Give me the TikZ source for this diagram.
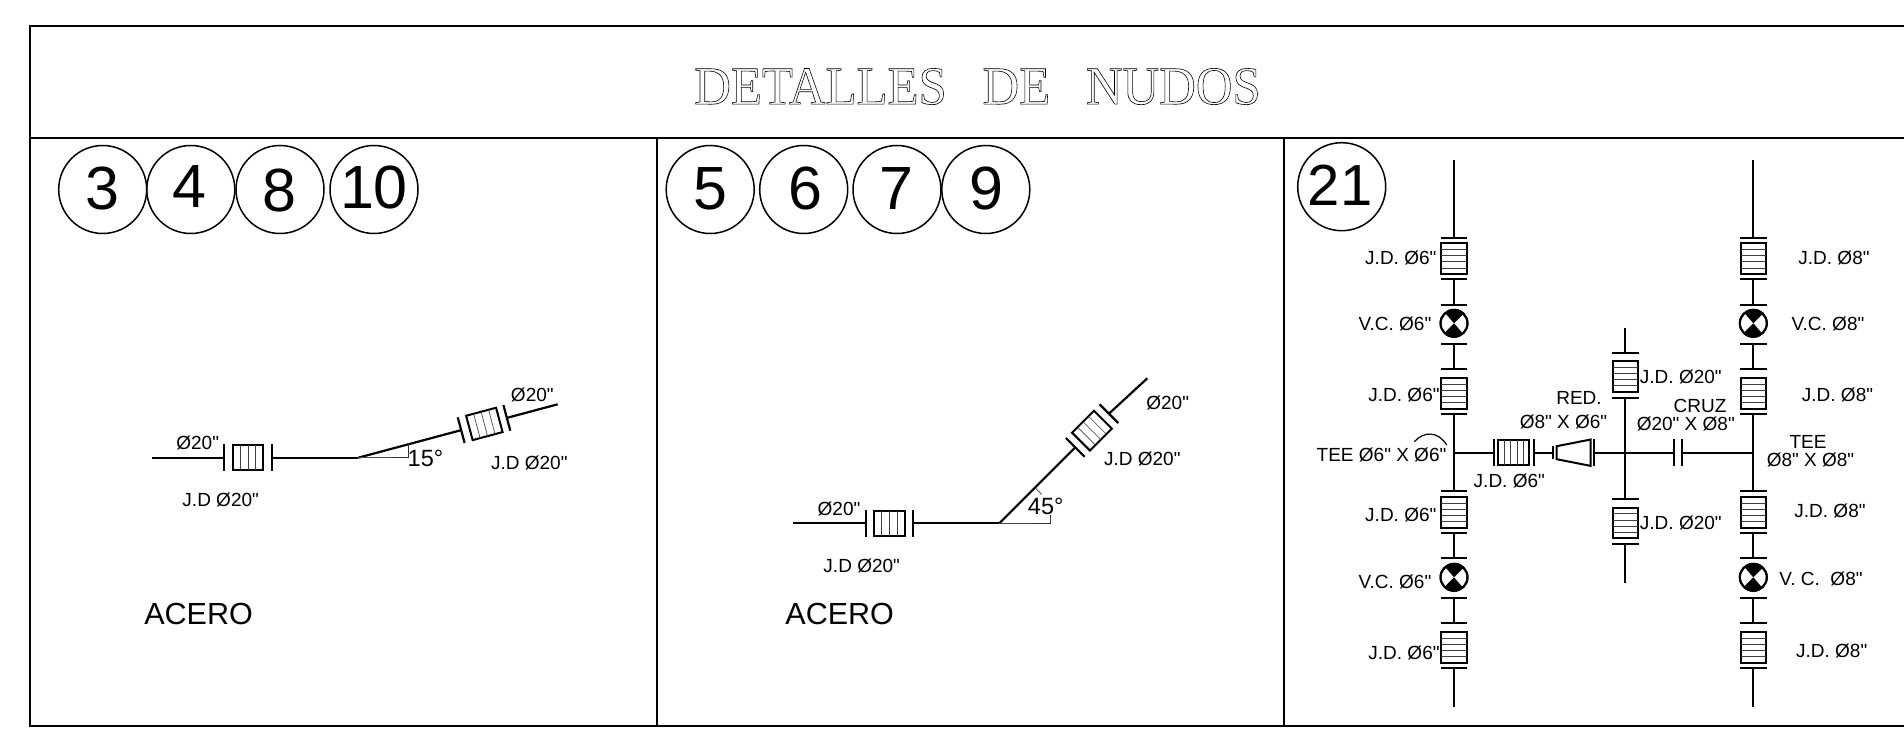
\documentclass[tikz,border=0pt]{standalone}
\usepackage{fontspec}
\usepackage{graphicx}
\newfontfamily\arial{Liberation Sans}
\newfontfamily\titlefont{Liberation Serif}
\tikzset{
  x=1pt,y=-1pt,
  pipe/.style={line width=2.2pt,black},
  flange/.style={line width=2.2pt,black},
  frameline/.style={line width=2pt,black},
  jointbox/.style={line width=2pt,black,fill=white},
  inner/.style={line width=.65pt,black!75},
  thindim/.style={line width=.8pt,black!80},
  ring/.style={circle,draw=black,line width=1.5pt,minimum size=88pt,inner sep=0pt},
  num/.style={font=\arial\fontsize{61}{61}\selectfont,inner sep=0pt,text height=43.9pt,text depth=0pt},
  numk/.style={font=\arial\fontsize{58}{58}\selectfont,inner sep=0pt,text height=41.8pt,text depth=0pt},
  lbl/.style={font=\arial\fontsize{19}{19}\selectfont,inner sep=0pt,text height=13.7pt,text depth=0pt},
  lblbig/.style={font=\arial\fontsize{30.5}{31}\selectfont,inner sep=0pt,text height=22pt,text depth=0pt},
  lblang/.style={font=\arial\fontsize{23.5}{24}\selectfont,inner sep=0pt,text height=16.9pt,text depth=0pt},
  valve/.style={circle,draw=black,line width=2pt,fill=white,minimum size=27pt,inner sep=0pt},
}
% name, x, y, angle, flange a, box a, box b, flange b, interior lines
\newcommand\jnt[9]{%
  \begin{scope}[shift={(#2,#3)},rotate=#4]
    \coordinate (#1-a) at (#5,0);
    \coordinate (#1-b) at (#8,0);
    \draw[flange] (#5,-13.3) -- (#5,13.3);
    \draw[flange] (#8,-13.3) -- (#8,13.3);
    \draw[jointbox] (#6,-12.6) rectangle (#7,12.6);
    \foreach \i in {1,...,#9}{\draw[inner] ({#6+(#7-#6)*\i/(#9+1)},-12.6) -- ({#6+(#7-#6)*\i/(#9+1)},12.6);}
  \end{scope}}
% name, x, y (flange across a vertical pipe)
\newcommand\hflg[3]{\coordinate (#1) at (#2,#3);\draw[flange] ([xshift=-13.3pt]#1) -- ([xshift=13.3pt]#1);}
% name, x, y, half height (flange across a horizontal pipe)
\newcommand\vflg[4]{\coordinate (#1) at (#2,#3);\draw[flange] ([yshift=-#4pt]#1) -- ([yshift=#4pt]#1);}
% name, x, y
\newcommand\vlv[3]{%
  \node[valve] (#1) at (#2,#3) {};
  \fill[black] (#1.center) -- (#1.45) arc[start angle=45,end angle=135,radius=13.5pt] -- cycle;
  \fill[black] (#1.center) -- (#1.-135) arc[start angle=-135,end angle=-45,radius=13.5pt] -- cycle;
  \draw[black,line width=2pt] (#1) circle[radius=13.5pt];}
% one vertical run: prefix, x
\newcommand\stack[2]{%
  \coordinate (#1top) at (#2,160);
  \coordinate (#1tee) at (#2,452.7);
  \coordinate (#1end) at (#2,706.7);
  \jnt{#1j1}{#2}{0}{-90}{237.7}{243.3}{274}{279.3}{4}
  \hflg{#1f1}{#2}{304.7}\vlv{#1v1}{#2}{323.3}\hflg{#1f2}{#2}{344}
  \jnt{#1j2}{#2}{0}{-90}{369.3}{377.7}{408.7}{414}{4}
  \jnt{#1j3}{#2}{0}{-90}{491.3}{496.7}{528}{533.3}{4}
  \hflg{#1f3}{#2}{558}\vlv{#1v2}{#2}{577.3}\hflg{#1f4}{#2}{598}
  \jnt{#1j4}{#2}{0}{-90}{623}{631.7}{662.7}{668}{4}
  \draw[pipe] (#1top) -- (#1j1-a);
  \draw[pipe] (#1j1-b) -- (#1f1);
  \draw[pipe] (#1f2) -- (#1j2-a);
  \draw[pipe] (#1j2-b) -- (#1j3-a);
  \draw[pipe] (#1j3-b) -- (#1f3);
  \draw[pipe] (#1f4) -- (#1j4-a);
  \draw[pipe] (#1j4-b) -- (#1end);}
\begin{document}
\begin{tikzpicture}
\useasboundingbox (0,0) rectangle (1904,738);
\fill[white] (0,0) rectangle (1904,738);
% frame
\coordinate (tl) at (30,26);
\coordinate (tr) at (1904,26);
\coordinate (bl) at (30,726);
\coordinate (br) at (1904,726);
\coordinate (ml) at (30,138);
\coordinate (mr) at (1904,138);
\coordinate (c1t) at (657,138);
\coordinate (c1b) at (657,726);
\coordinate (c2t) at (1283.5,138);
\coordinate (c2b) at (1283.5,726);
\draw[frameline] (tr) -- (tl) -- (bl) -- (br);
\draw[frameline] (ml) -- (mr);
\draw[frameline] (c1t) -- (c1b);
\draw[frameline] (c2t) -- (c2b);
% title
\node[inner sep=0pt] (title) at (977.5,86.5) {\scalebox{.94}[1]{\titlefont\fontsize{54}{54}\selectfont\special{pdf:code q 1 Tr 0.62 w}DETALLES\hspace{38pt}DE\hspace{38pt}NUDOS\special{pdf:code Q}}};
% number circles
\foreach \nm/\cx/\ty/\tx/\t in {a/102.7/188/102/3,b/190.8/186/189.5/4,c/280/190/279/8,d/374/187/374/10,
  e/710.2/188/710.5/5,f/803.7/188/805/6,g/897/188/896/7,h/985.8/188/986/9}{
  \node[ring] (ring\nm) at (\cx,189.5) {};
  \node[num] (num\nm) at (\tx,\ty) {\t};
}
\node[ring] (ringk) at (1341.7,186.7) {};
\node[numk] (numk) at (1340,185) {21};
% panel 1
\coordinate (p1s) at (152.3,457.7);
\coordinate (p1e) at (358.3,457.7);
\coordinate (p1x) at (390,457.7);
\coordinate (p1d) at (408.3,457.7);
\coordinate (p1u) at (408.3,443.3);
\coordinate (p1t) at (557.7,404.3);
\jnt{p1j}{0}{457.7}{0}{224.3}{232.7}{263.3}{272.3}{3}
\begin{scope}[shift={(p1e)},rotate=15]
\jnt{p1k}{0}{0}{0}{106.5}{115}{146}{153.8}{3}
\end{scope}
\draw[pipe] (p1s) -- (p1j-a);
\draw[pipe] (p1j-b) -- (p1e);
\draw[pipe] (p1e) -- (p1k-a);
\draw[pipe] (p1k-b) -- (p1t);
\draw[pipe,line width=1.4pt,black!70] (p1e) -- (p1x);
\draw[thindim] (p1x) -- (p1d) -- (p1u);
\node[lbl] (t1) at (197.7,442.3) {Ø20"};
\node[lbl] (t2) at (220.7,500) {J.D Ø20"};
\node[lbl] (t3) at (532.3,395) {Ø20"};
\node[lbl] (t4) at (529.3,462.7) {J.D Ø20"};
\node[lblang] (t5) at (425.5,458.3) {15°};
\node[lblbig] (t6) at (198.6,613.5) {ACERO};
% panel 2
\coordinate (p2s) at (793.3,523.3);
\coordinate (p2e) at (999.3,523.3);
\coordinate (p2x) at (1031.7,523.3);
\coordinate (p2d) at (1050,523.3);
\coordinate (p2u) at (1050,515);
\coordinate (p2t) at (1147.3,378.3);
\coordinate (p2m1) at (1035.7,488.3);
\coordinate (p2m2) at (1041.7,494.3);
\jnt{p2j}{0}{523.3}{0}{866}{874}{905}{913.3}{3}
\begin{scope}[shift={(p2e)},rotate=45]
\jnt{p2k}{0}{0}{0}{107.4}{115.5}{146.5}{155}{3}
\end{scope}
\draw[pipe] (p2s) -- (p2j-a);
\draw[pipe] (p2j-b) -- (p2e);
\draw[pipe] (p2e) -- (p2k-a);
\draw[pipe] (p2k-b) -- (p2t);
\draw[pipe,line width=1.4pt,black!70] (p2e) -- (p2x);
\draw[thindim] (p2x) -- (p2d) -- (p2u);
\draw[thindim] (p2m1) -- (p2m2);
\node[lbl] (t7) at (839,509) {Ø20"};
\node[lbl] (t8) at (861.7,566) {J.D Ø20"};
\node[lbl] (t9) at (1167.7,402.7) {Ø20"};
\node[lbl] (t10) at (1142.3,459) {J.D Ø20"};
\node[lblang] (t11) at (1045.7,506) {45°};
\node[lblbig] (t12) at (839.7,613.5) {ACERO};
% panel 3: vertical runs
\stack{A}{1454}
\stack{B}{1753.3}
% middle vertical run
\coordinate (Ctop) at (1625.3,327.7);
\coordinate (Ctee) at (1625.3,452.7);
\coordinate (Cend) at (1625.3,583.3);
\jnt{Cj1}{1625.3}{0}{-90}{352.7}{361.3}{391.7}{397.7}{4}
\jnt{Cj2}{1625.3}{0}{-90}{499.3}{507.7}{538.3}{543.7}{4}
\draw[pipe] (Ctop) -- (Cj1-a);
\draw[pipe] (Cj1-b) -- (Cj2-a);
\draw[pipe] (Cj2-b) -- (Cend);
% horizontal run
\jnt{Hj}{0}{452.7}{0}{1494}{1498.3}{1529.3}{1534}{4}
\vflg{Hr1}{1552.7}{452.7}{6.5}
\vflg{Hr2}{1594.3}{452.7}{13.3}
\vflg{Hc1}{1674.3}{452.7}{13.3}
\vflg{Hc2}{1682.3}{452.7}{13.3}
\coordinate (Ra) at (1556.7,446.2);
\coordinate (Rb) at (1556.7,459.2);
\coordinate (Rc) at (1590.7,465.9);
\coordinate (Rd) at (1590.7,439.5);
\draw[flange,line width=2pt,fill=white] (Ra) -- (Rb) -- (Rc) -- (Rd) -- cycle;
\draw[pipe] (Atee) -- (Hj-a);
\draw[pipe] (Hj-b) -- (Hr1);
\draw[pipe] (Hr2) -- (Ctee);
\draw[pipe] (Ctee) -- (Hc1);
\draw[pipe] (Hc2) -- (Btee);
% tee arc
\coordinate (arcA) at (1414.3,441.7);
\coordinate (arcB) at (1446.7,445);
\draw[line width=1.2pt,black] (arcA) .. controls (1424,431) and (1438,431) .. (arcB);
% panel 3 labels
\node[lbl] (u1) at (1400.8,257.7) {J.D. Ø6"};
\node[lbl] (u2) at (1395,323.3) {V.C. Ø6"};
\node[lbl] (u3) at (1404,395) {J.D. Ø6"};
\node[lbl] (u4) at (1381.5,455) {TEE Ø6" X Ø6"};
\node[lbl] (u5) at (1509.3,480.7) {J.D. Ø6"};
\node[lbl] (u6) at (1400.8,515) {J.D. Ø6"};
\node[lbl] (u7) at (1395,581.7) {V.C. Ø6"};
\node[lbl] (u8) at (1404,652.7) {J.D. Ø6"};
\node[lbl] (u9) at (1579,398) {RED.};
\node[lbl] (u10) at (1563.5,421.7) {Ø8" X Ø6"};
\node[lbl] (u11) at (1680.8,376.7) {J.D. Ø20"};
\node[lbl] (u12) at (1680.8,522.3) {J.D. Ø20"};
\node[lbl] (u13) at (1700,405.7) {CRUZ};
\node[lbl] (u14) at (1685.8,424) {Ø20" X Ø8"};
\node[lbl] (u15) at (1808,441.7) {TEE};
\node[lbl] (u16) at (1810.5,459.3) {Ø8" X Ø8"};
\node[lbl] (u17) at (1834,257.7) {J.D. Ø8"};
\node[lbl] (u18) at (1828,323.3) {V.C. Ø8"};
\node[lbl] (u19) at (1837.5,395) {J.D. Ø8"};
\node[lbl] (u20) at (1830,511) {J.D. Ø8"};
\node[lbl] (u21) at (1821,578.3) {V. C.\ \ Ø8"};
\node[lbl] (u22) at (1831.7,651) {J.D. Ø8"};
\end{tikzpicture}
\end{document}
